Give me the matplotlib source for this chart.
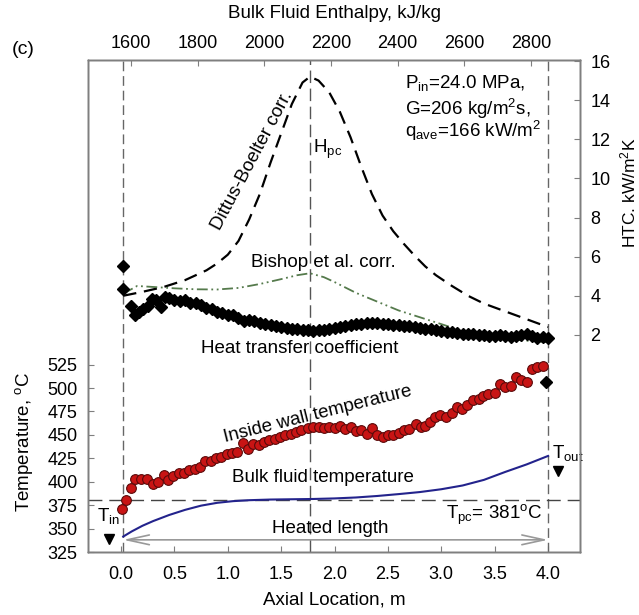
import matplotlib
matplotlib.use("Agg")
import matplotlib.pyplot as plt
from matplotlib.ticker import FormatStrFormatter

plt.rcParams['font.family'] = ['Liberation Sans', 'DejaVu Sans']
plt.rcParams['mathtext.fontset'] = 'custom'
plt.rcParams['mathtext.rm'] = 'Liberation Sans'
plt.rcParams['mathtext.it'] = 'Liberation Sans:italic'
plt.rcParams['mathtext.bf'] = 'Liberation Sans:bold'

# inside wall temperature, degC
wall_x = [0.01, 0.05, 0.09, 0.13, 0.19, 0.24, 0.30, 0.35, 0.40, 0.44, 0.49, 0.54, 0.59, 0.64,
          0.69, 0.74, 0.79, 0.84, 0.89, 0.94, 0.99, 1.04, 1.09, 1.14, 1.19, 1.24, 1.29, 1.34,
          1.39, 1.44, 1.49, 1.54, 1.59, 1.64, 1.69, 1.75, 1.80, 1.85, 1.90, 1.95, 2.00, 2.05,
          2.10, 2.15, 2.20, 2.25, 2.30, 2.35, 2.40, 2.45, 2.50, 2.55, 2.60, 2.65, 2.70, 2.76,
          2.81, 2.85, 2.89, 2.94, 2.99, 3.04, 3.10, 3.15, 3.19, 3.24, 3.30, 3.35, 3.39, 3.44,
          3.50, 3.55, 3.60, 3.65, 3.70, 3.75, 3.80, 3.85, 3.90, 3.95]
wall_t = [371, 381, 393, 403, 403, 403, 398, 400, 407, 402, 406, 409, 409, 412,
          414, 416, 422, 422, 425, 426, 430, 431, 432, 441, 435, 440, 439, 442,
          445, 446, 448, 450, 451, 453, 455, 457, 458, 458, 457, 458, 457, 459,
          456, 458, 454, 455, 451, 457, 450, 448, 450, 450, 452, 455, 456, 462,
          458, 460, 464, 469, 471, 469, 473, 480, 478, 482, 487, 488, 491, 494,
          495, 504, 501, 502, 512, 509, 506, 520, 522, 523]

# bulk fluid temperature, degC
bulk_x = [0.02, 0.1, 0.2, 0.3, 0.45, 0.6, 0.75, 0.9, 1.05, 1.2, 1.4, 1.6, 1.8, 2.0, 2.2,
          2.4, 2.6, 2.8, 3.0, 3.2, 3.4, 3.6, 3.8, 4.0]
bulk_t = [341.5, 347, 353, 358, 364.5, 370, 374.5, 377.5, 379.3, 380.3, 381, 381.3, 381.6,
          382.2, 383.2, 384.8, 386.8, 389, 392, 396, 402, 410.5, 418.5, 427.5]

# measured heat transfer coefficient, kW/m2K
htc_x = [0.02, 0.02, 0.09, 0.13, 0.17, 0.21, 0.25, 0.29, 0.33, 0.37, 0.41, 0.45,
         0.50, 0.55, 0.60, 0.65, 0.70, 0.75, 0.80, 0.85, 0.90, 0.95, 1.00, 1.05,
         1.10, 1.15, 1.20, 1.25, 1.30, 1.35, 1.40, 1.45, 1.50, 1.55, 1.60, 1.65,
         1.70, 1.75, 1.80, 1.85, 1.90, 1.95, 2.00, 2.05, 2.10, 2.15, 2.20, 2.25,
         2.30, 2.35, 2.40, 2.45, 2.50, 2.55, 2.60, 2.65, 2.70, 2.75, 2.80, 2.85,
         2.90, 2.95, 3.00, 3.05, 3.10, 3.15, 3.20, 3.25, 3.30, 3.35, 3.40, 3.45,
         3.50, 3.55, 3.60, 3.65, 3.70, 3.75, 3.80, 3.85, 3.90, 3.95, 4.00, 3.98]
htc = [5.53, 4.34, 3.47, 3.01, 3.18, 3.30, 3.47, 3.83, 3.77, 3.43, 3.94, 3.86,
       3.77, 3.72, 3.76, 3.64, 3.62, 3.52, 3.36, 3.30, 3.18, 3.12, 3.03, 3.04,
       2.84, 2.72, 2.76, 2.70, 2.62, 2.56, 2.48, 2.44, 2.38, 2.34, 2.30, 2.28,
       2.25, 2.24, 2.22, 2.25, 2.27, 2.32, 2.35, 2.42, 2.46, 2.50, 2.55, 2.58,
       2.61, 2.63, 2.60, 2.58, 2.55, 2.52, 2.50, 2.46, 2.43, 2.40, 2.36, 2.32,
       2.28, 2.25, 2.20, 2.17, 2.14, 2.10, 2.07, 2.05, 2.02, 2.00, 1.98, 1.96,
       1.95, 1.97, 1.92, 1.90, 1.93, 1.98, 2.06, 1.92, 1.86, 1.88, 1.85, -0.40]

# Dittus-Boelter correlation
db_x = [0.02, 0.2, 0.4, 0.6, 0.8, 0.9, 1.0, 1.1, 1.2, 1.3, 1.4, 1.5, 1.6, 1.7, 1.77,
        1.85, 1.95, 2.05, 2.15, 2.25, 2.35, 2.45, 2.55, 2.65, 2.75, 2.85, 2.95, 3.1,
        3.25, 3.4, 3.6, 3.8, 4.0]
db_h = [4.0, 4.2, 4.45, 4.8, 5.3, 5.65, 6.1, 6.8, 7.9, 9.2, 10.8, 12.3, 13.8, 14.9, 15.2,
        15.0, 14.4, 13.4, 12.1, 10.6, 9.2, 8.1, 7.3, 6.65, 6.05, 5.5, 5.05, 4.5,
        4.0, 3.6, 3.2, 2.8, 2.4]

# Bishop et al. correlation
bi_x = [0.02, 0.15, 0.3, 0.5, 0.7, 0.9, 1.1, 1.3, 1.5, 1.65, 1.77, 1.9, 2.0, 2.2, 2.4,
        2.6, 2.8, 3.0, 3.2, 3.4, 3.6, 3.8, 4.0]
bi_h = [4.1, 4.5, 4.45, 4.38, 4.33, 4.32, 4.4, 4.6, 4.85, 5.05, 5.15, 4.95, 4.7, 4.15, 3.7,
        3.25, 2.9, 2.55, 2.2, 1.95, 1.8, 1.7, 1.63]

temp_ticks = [325, 350, 375, 400, 425, 450, 475, 500, 525]
htc_ticks = [2, 4, 6, 8, 10, 12, 14, 16]
enth_ticks = [1600, 1800, 2000, 2200, 2400, 2600, 2800]
loc_ticks = [0.0, 0.5, 1.0, 1.5, 2.0, 2.5, 3.0, 3.5, 4.0]

x_in, x_pc, x_out, t_pc = 0.02, 1.77, 4.0, 381

grey = '#7f7f7f'
fs = 13

fig = plt.figure(figsize=(6.39, 6.15), dpi=100)
ax = fig.add_axes([0.1377, 0.1024, 0.770, 0.800])
ax2 = ax.twinx()
ax3 = ax.twiny()

for a in (ax, ax2, ax3):
    for s in a.spines.values():
        s.set_color(grey)
        s.set_linewidth(1.0)

ax.set_xlim(-0.31, 4.30)
ax.set_ylim(325, 850)
ax2.set_ylim(-9.1, 16.05)
ax3.set_xlim(1471, 2947)

ax.set_xticks(loc_ticks)
ax.xaxis.set_major_formatter(FormatStrFormatter('%.1f'))
ax.set_yticks(temp_ticks)
ax2.set_yticks(htc_ticks)
ax3.set_xticks(enth_ticks)

ax.tick_params(axis='x', direction='in', length=4.5, width=0.8, color=grey, labelsize=fs, pad=10)
ax.tick_params(axis='y', direction='in', length=4.5, width=0.8, color=grey, labelsize=fs, pad=7.5)
ax2.tick_params(axis='y', direction='in', length=4.5, width=0.8, color=grey, labelsize=fs, pad=7.5)
ax3.tick_params(axis='x', direction='in', length=4.5, width=0.8, color=grey, labelsize=fs, pad=6)

ax.set_xlabel('Axial Location, m', fontsize=13.5, labelpad=6)
ax3.set_xlabel('Bulk Fluid Enthalpy, kJ/kg', fontsize=13.5, labelpad=12)
fig.text(24 / 639, 1 - 442 / 615, 'Temperature, $^{\\rm o}$C', fontsize=13.5,
         rotation=90, ha='center', va='center')
fig.text(628 / 639, 1 - 193 / 615, 'HTC. kW/m$^2$K', fontsize=12.5,
         rotation=90, ha='center', va='center')

# reference lines
for xv in (x_in, x_out):
    ax.axvline(xv, color='#666666', lw=1.0, dashes=(7, 3.5))
ax.axvline(x_pc, color='#555555', lw=1.0, dashes=(9, 4))
ax.axhline(t_pc, color='#444444', lw=1.0, dashes=(10, 5))

# temperatures
ax.plot(bulk_x, bulk_t, color='#23238c', lw=1.5, zorder=3)
ax.plot(wall_x, wall_t, 'o', ms=7, mfc='#c81414', mec='#5a0a0a', mew=0.8, zorder=4)

# HTC
ax2.plot(db_x, db_h, color='black', lw=1.6, dashes=(6, 3.5))
ax2.plot(bi_x, bi_h, color='#557a4c', lw=1.3, dashes=(6, 2, 1, 2, 1, 2))
ax2.plot(htc_x, htc, 'D', ms=6.5, color='black', zorder=4)

# annotations
ax2.text(1.23, 10.9, 'Dittus-Boelter corr.', fontsize=13.5, rotation=62,
         ha='center', va='center', rotation_mode='anchor')
ax2.text(1.80, 11.29, 'H$_{\\rm pc}$', fontsize=13.5, ha='left', va='baseline')
ax2.text(1.893, 5.48, 'Bishop et al. corr.', fontsize=13.5, ha='center', va='baseline')
ax2.text(1.67, 1.05, 'Heat transfer coefficient', fontsize=13.5, ha='center', va='baseline')

ax.text(1.846, 471.9, 'Inside wall temperature', fontsize=13.5, rotation=14,
        ha='center', va='center', rotation_mode='anchor')
ax.text(1.893, 399.6, 'Bulk fluid temperature', fontsize=13.5, ha='center', va='baseline')
ax.text(1.963, 345.1, 'Heated length', fontsize=13.5, ha='center', va='baseline')
ax.annotate('', xy=(0.02, 338), xytext=(4.0, 338),
            arrowprops=dict(arrowstyle='<->,head_length=1.6,head_width=0.35',
                            color='#999999', lw=1.2, mutation_scale=10,
                            shrinkA=0, shrinkB=0))
ax.text(3.943, 360.5, 'T$_{\\rm pc}$= 381$^{\\rm o}$C', fontsize=13.5, ha='right', va='baseline')
ax.text(-0.228, 358.6, 'T$_{\\rm in}$', fontsize=13.5, ha='left', va='baseline')
ax.plot([-0.11], [339.1], 'v', color='black', ms=6.5, clip_on=False)
ax.text(4.04, 425.6, 'T$_{\\rm out}$', fontsize=13.5, ha='left', va='baseline')
ax.plot([4.09], [411], 'v', color='black', ms=6.5, clip_on=False)

ax3.text(0.644, 0.943, 'P$_{\\rm in}$=24.0 MPa,', transform=ax3.transAxes, fontsize=13.5, va='baseline')
ax3.text(0.644, 0.888, 'G=206 kg/m$^2$s,', transform=ax3.transAxes, fontsize=13.5, va='baseline')
ax3.text(0.644, 0.843, 'q$_{\\rm ave}$=166 kW/m$^2$', transform=ax3.transAxes, fontsize=13.5, va='baseline')

fig.text(0.036, 0.920, '(c)', fontsize=14, ha='center', va='center')

fig.savefig('out.png', dpi=100)
